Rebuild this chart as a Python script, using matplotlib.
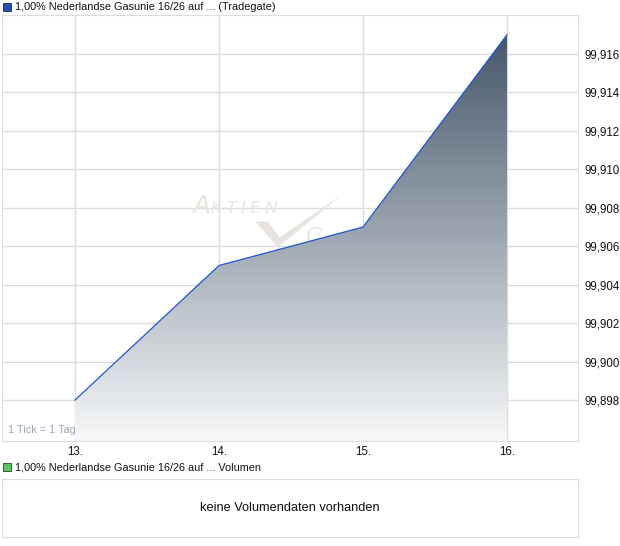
import numpy as np
import matplotlib
matplotlib.use("Agg")
import matplotlib.pyplot as plt
from matplotlib.patches import Rectangle, Polygon

plt.rcParams['font.family'] = ['Liberation Sans', 'DejaVu Sans']

# price series (Tradegate)
days = [13, 14, 15, 16]
prices = [99.898, 99.905, 99.907, 99.917]
day_labels = ["13.", "14.", "15.", "16."]
price_ticks = [99.898, 99.900, 99.902, 99.904, 99.906, 99.908, 99.910, 99.912, 99.914, 99.916]

title_price = "1,00% Nederlandse Gasunie 16/26 auf ... (Tradegate)"
title_volume = "1,00% Nederlandse Gasunie 16/26 auf ... Volumen"
no_volume = "keine Volumendaten vorhanden"

W, H = 620, 546
fig = plt.figure(figsize=(W / 100, H / 100), dpi=100)

def box(x0, y0, x1, y1):
    # pixel box (top-left origin) -> figure fraction
    return [x0 / W, 1 - y1 / H, (x1 - x0) / W, (y1 - y0) / H]

grid_c = "#dcdcdc"
wm_c = "#e7e3de"

ax = fig.add_axes(box(2, 15, 578, 441))
ax.set_xlim(12.493, 16.493)
ax.set_ylim(99.89587, 99.91803)

ymin, ymax = ax.get_ylim()
grad = np.linspace(0, 1, 256).reshape(-1, 1)
top = np.array([0x44, 0x57, 0x6a]) / 255
bot = np.array([0xf7, 0xf8, 0xf9]) / 255
img = (top + (bot - top) * grad).reshape(256, 1, 3)
fill = ax.fill_between(days, prices, ymin, color="none", lw=0)
im = ax.imshow(img, aspect="auto", extent=[days[0], days[-1], ymin, max(prices)],
               origin="upper", zorder=2)
im.set_clip_path(fill.get_paths()[0], transform=ax.transData)
ax.plot(days, prices, color="#1f55d6", lw=0.9, zorder=3)

ax.set_xticks(days)
ax.set_xticklabels(day_labels)
ax.set_yticks(price_ticks)
ax.set_yticklabels([f"{v:.3f}".replace(".", ",") for v in price_ticks])
ax.yaxis.tick_right()
ax.tick_params(length=0, labelsize=8.3, colors="#111111")
ax.tick_params(axis="y", pad=5)
ax.tick_params(axis="x", pad=3.5)
ax.grid(True, color=grid_c, lw=1, zorder=0)
ax.set_axisbelow(True)
for s in ax.spines.values():
    s.set_color(grid_c)

# watermark
ax.text(0.331, 0.535, "A", transform=ax.transAxes, fontsize=19, style="italic",
        color=wm_c, zorder=1, ha="left", va="baseline")
ax.text(0.362, 0.535, "K T I E N", transform=ax.transAxes, fontsize=11.8, style="italic",
        color=wm_c, zorder=1, ha="left", va="baseline")
ax.add_patch(Polygon([[0.440, 0.515], [0.462, 0.515], [0.482, 0.478], [0.590, 0.578],
                      [0.479, 0.455]], closed=True, transform=ax.transAxes,
                     facecolor=wm_c, edgecolor="none", zorder=1))
ax.text(0.528, 0.468, "C", transform=ax.transAxes, fontsize=16, style="italic",
        color=wm_c, zorder=1, ha="left", va="baseline")

ax.text(0.011, 0.013, "1 Tick = 1 Tag", transform=ax.transAxes, fontsize=7.8,
        color="#9aa6b8", ha="left", va="bottom", zorder=4)

# legend headers
fig.patches.append(Rectangle((3 / W, 1 - 11 / H), 8 / W, 8 / H, transform=fig.transFigure,
                             facecolor="#2350b8", edgecolor="#1a2a55", lw=0.6))
fig.text(15 / W, 1 - 6.5 / H, title_price, fontsize=7.8, va="center", ha="left", color="#111111")
fig.patches.append(Rectangle((3 / W, 1 - 471 / H), 8 / W, 8 / H, transform=fig.transFigure,
                             facecolor="#5cc85c", edgecolor="#1f4a1f", lw=0.6))
fig.text(15 / W, 1 - 467 / H, title_volume, fontsize=7.8, va="center", ha="left", color="#111111")

# volume panel
vax = fig.add_axes(box(2, 479, 578, 537))
vax.set_xticks([])
vax.set_yticks([])
for s in vax.spines.values():
    s.set_color(grid_c)
vax.text(0.5, 0.5, no_volume, transform=vax.transAxes, ha="center", va="center",
         fontsize=9.2, color="#111111")

fig.savefig("out.png", dpi=100)
